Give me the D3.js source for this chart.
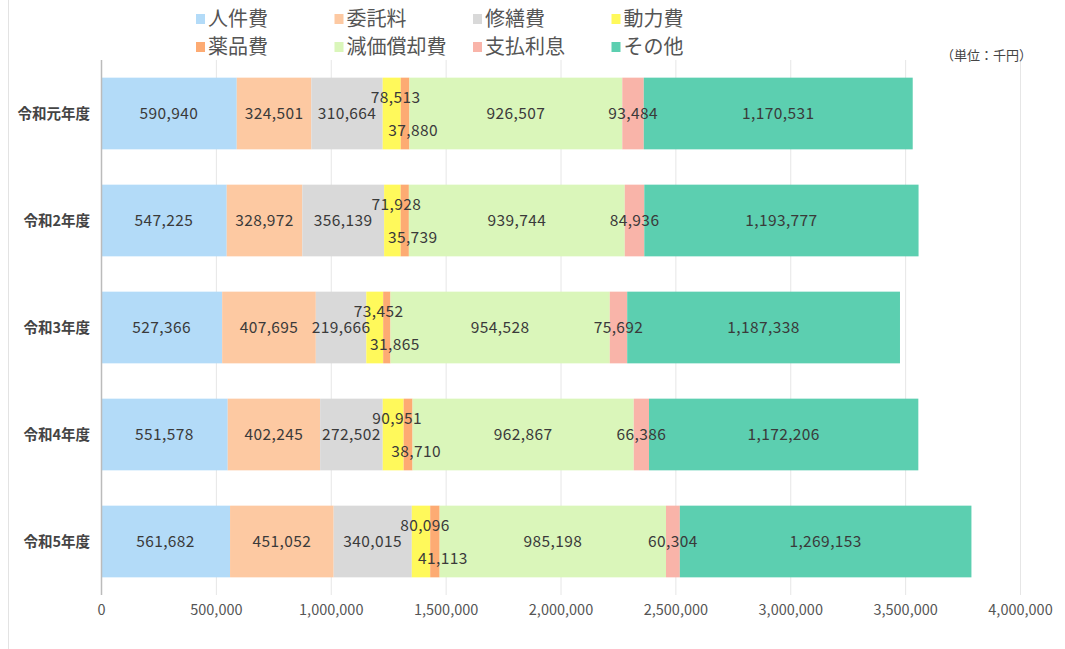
<!DOCTYPE html>
<html>
<head>
<meta charset="utf-8">
<script src="https://cdn.jsdelivr.net/npm/d3@7"></script>
<style>
body{margin:0;background:#fff;font-family:"Noto Sans CJK JP","Noto Sans",sans-serif;}
</style>
</head>
<body>
<svg id="chart" width="1065" height="649"></svg>
<script>
// data
const years = ['令和元年度','令和2年度','令和3年度','令和4年度','令和5年度'];
const items = ['人件費','委託料','修繕費','動力費','薬品費','減価償却費','支払利息','その他'];
const jinken   = [590940, 547225, 527366, 551578, 561682];
const itaku    = [324501, 328972, 407695, 402245, 451052];
const shuzen   = [310664, 356139, 219666, 272502, 340015];
const douryoku = [78513, 71928, 73452, 90951, 80096];
const yakuhin  = [37880, 35739, 31865, 38710, 41113];
const genka    = [926507, 939744, 954528, 962867, 985198];
const shiharai = [93484, 84936, 75692, 66386, 60304];
const sonota   = [1170531, 1193777, 1187338, 1172206, 1269153];
const xticks = [0,500000,1000000,1500000,2000000,2500000,3000000,3500000,4000000];

const series = [jinken, itaku, shuzen, douryoku, yakuhin, genka, shiharai, sonota];
const color = ['#b3dbf8','#fdc9a2','#d9d9d9','#fff95b','#fdab73','#daf6ba','#f9b4a9','#5ccfb0'];

const svg = d3.select('#chart');
const margin = {top:60, left:101, right:45, bottom:54};

// faint left border
svg.append('line').attr('x1',8.5).attr('x2',8.5).attr('y1',0).attr('y2',649)
    .style('stroke','#e3e3e3');

const g = svg.append('g').attr('transform',`translate(${margin.left},${margin.top})`);

const x = d3.scaleLinear().domain([0,4000000]).range([0,919]);
const y = d3.scaleBand().domain(years).range([0,535]).paddingInner(0.33).paddingOuter(0.165);

// grid
g.selectAll('.grid').data(xticks.slice(1)).enter().append('line')
    .attr('x1',d=>x(d)+0.5).attr('x2',d=>x(d)+0.5)
    .attr('y1',0).attr('y2',535)
    .style('stroke','#e6e6e6');

// stacked data
const rows = years.map((yr,i)=>{
    let acc = 0;
    return items.map((it,k)=>{
        const v = series[k][i];
        const seg = {year:yr, k:k, v:v, x0:acc, x1:acc+v};
        acc += v;
        return seg;
    });
});

const segs = rows.flat();
g.selectAll('rect.bar').data(segs).enter().append('rect')
    .attr('x',d=>x(d.x0))
    .attr('y',d=>y(d.year))
    .attr('width',d=>x(d.x1)-x(d.x0))
    .attr('height',y.bandwidth())
    .style('fill',d=>color[d.k]);

// value labels (動力費 above, 薬品費 below)
g.selectAll('text.val').data(segs).enter().append('text')
    .attr('x',d=>{
        const c = (x(d.x0)+x(d.x1))/2;
        if(d.k===3) return c+4;
        if(d.k===4) return c+8;
        return c;
    })
    .attr('y',d=>{
        const c = y(d.year)+y.bandwidth()/2;
        if(d.k===3) return c-16;
        if(d.k===4) return c+17;
        return c;
    })
    .attr('dy','0.35em')
    .attr('text-anchor','middle')
    .style('font-size','15.5px')
    .style('letter-spacing','0.4px')
    .style('fill','#3a3a3a')
    .text(d=>d3.format(',')(d.v));

// category labels
g.selectAll('text.cat').data(years).enter().append('text')
    .attr('x',-11)
    .attr('y',d=>y(d)+y.bandwidth()/2)
    .attr('dy','0.35em')
    .attr('text-anchor','end')
    .style('font-size','14.5px')
    .style('font-weight','bold')
    .style('fill','#444')
    .text(d=>d);

// y axis line
g.append('line').attr('x1',0.5).attr('x2',0.5).attr('y1',0).attr('y2',535)
    .style('stroke','#bbb').style('stroke-width',1.5);

// x axis
const xa = g.append('g').attr('transform',`translate(0,535)`)
    .call(d3.axisBottom(x).tickValues(xticks).tickFormat(d3.format(',')).tickSize(0).tickPadding(10));
xa.select('.domain').remove();
xa.selectAll('text').style('font-size','14.5px').style('fill','#555')
    .style('font-family','"Noto Sans CJK JP",sans-serif');

// unit
svg.append('text').attr('x',1032).attr('y',60).attr('text-anchor','end')
    .style('font-size','13px').style('fill','#444').text('（単位：千円）');

// legend
const lg = svg.append('g');
items.forEach((it,k)=>{
    const col = k%4, row = Math.floor(k/4);
    const lx = 196 + col*138.5, ly = 19 + row*28;
    lg.append('rect').attr('x',lx).attr('y',ly-5).attr('width',9).attr('height',10)
        .style('fill',color[k]);
    lg.append('text').attr('x',lx+12).attr('y',ly).attr('dy','0.35em')
        .style('font-size','20px').style('fill','#555').text(it);
});
</script>
</body>
</html>
